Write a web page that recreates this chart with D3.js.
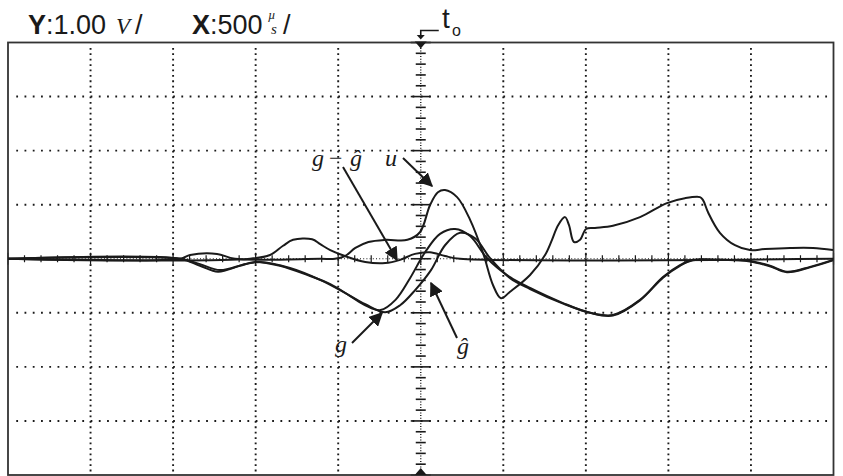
<!DOCTYPE html>
<html><head><meta charset="utf-8">
<script src="https://cdn.jsdelivr.net/npm/d3@7"></script>
<style>body{margin:0;background:#fff}svg{display:block}</style>
</head><body>
<svg id="c" width="843" height="476"></svg>
<script>
// ---- data (time in µs relative to t0, voltage in V) ----
const timeTicks = [-2500,-2000,-1500,-1000,-500,0,500,1000,1500,2000,2500];
const voltTicks = [-4,-3,-2,-1,0,1,2,3,4];

const uTime = [-2500,-1458,-1397,-1234,-1125,-608,-520,-459,-396,-317,-215,-81,-5,56,104,147,220,299,377,438,486,541,662,753,795,832,874,898,928,965,1001,1055,1164,1328,1491,1600,1691,1709,1740,1812,1903,1994,2085,2237,2376,2497];
const uVolt = [0,0,0.07,0.09,0,0,0,0.05,0.2,0.31,0.35,0.35,0.49,0.99,1.23,1.27,1.14,0.72,0.11,-0.49,-0.73,-0.61,-0.3,0.07,0.35,0.62,0.77,0.62,0.31,0.35,0.55,0.57,0.61,0.77,1.03,1.12,1.14,1.09,0.86,0.48,0.25,0.16,0.18,0.2,0.2,0.16];

const gTime = [-2500,-1458,-1337,-1228,-1095,-1004,-853,-670,-548,-427,-336,-244,-153,-65,26,117,208,299,402,541,662,862,1025,1164,1328,1467,1570,1649,1812,1994,2115,2218,2358,2497];
const gVolt = [0,0,-0.13,-0.24,-0.13,-0.06,-0.13,-0.32,-0.47,-0.69,-0.86,-0.95,-0.76,-0.36,0.12,0.46,0.55,0.42,0.01,-0.34,-0.54,-0.82,-1.0,-1.04,-0.76,-0.34,-0.12,-0.02,-0.02,-0.04,-0.13,-0.24,-0.15,-0.02];

const ghTime = [-2500,-1458,-1337,-1216,-1065,-974,-792,-609,-459,-336,-215,-125,-34,62,147,238,329,420,541,662,862,1025,1164,1328,1467,1570,1649,1812,1994,2115,2218,2358,2497];
const ghVolt = [0,0,-0.1,-0.21,-0.1,-0.06,-0.17,-0.39,-0.63,-0.84,-0.99,-0.86,-0.58,-0.21,0.25,0.48,0.38,0.01,-0.36,-0.56,-0.83,-1.0,-1.05,-0.77,-0.35,-0.13,-0.03,-0.02,-0.05,-0.14,-0.25,-0.16,-0.03];

const eTime = [-2500,-1034,-913,-834,-773,-658,-609,-548,-459,-336,-215,-125,-35,56,147,238,2500];
const eVolt = [0,0,0.07,0.24,0.35,0.36,0.27,0.16,0.05,-0.06,-0.08,-0.02,0.09,0.12,0.05,0,0];

// ---- drawing ----
const svg = d3.select("#c");
const L=8, R=833.5, T=42.5, B=475;
const x = d3.scaleLinear().domain([-2500,2500]).range([L,R]);
const y = d3.scaleLinear().domain([-4,4]).range([B,T]);
const ink = "#1a1a1a";

// dotted grid
const g = svg.append("g");
const divX = (x(500)-x(0)), divY = (y(0)-y(1));
timeTicks.filter(t=>t!==0 && t!==-2500 && t!==2500).forEach(t=>{
  g.append("line").attr("x1",x(t)).attr("x2",x(t)).attr("y1",T+divY/10).attr("y2",B)
   .attr("stroke",ink).attr("stroke-width",1.9)
   .attr("stroke-dasharray",`1.8,${divY/10-1.8}`);
});
voltTicks.filter(v=>v!==0 && Math.abs(v)!==4).forEach(v=>{
  g.append("line").attr("y1",y(v)).attr("y2",y(v)).attr("x1",L+divX/10).attr("x2",R)
   .attr("stroke",ink).attr("stroke-width",1.9)
   .attr("stroke-dasharray",`1.8,${divX/10-1.8}`);
});
// centre axes (dense dots + ticks)
g.append("line").attr("x1",x(0)).attr("x2",x(0)).attr("y1",T).attr("y2",B)
 .attr("stroke",ink).attr("stroke-width",1.4).attr("stroke-dasharray","1,1.7");
g.append("line").attr("y1",y(0)).attr("y2",y(0)).attr("x1",L).attr("x2",R)
 .attr("stroke",ink).attr("stroke-width",1.2).attr("stroke-dasharray","1,2.2");
d3.range(-4,4.001,0.2).forEach(v=>{
  const major = Math.abs(v-Math.round(v))<1e-6;
  const h = major?10:5;
  g.append("line").attr("x1",x(0)-h).attr("x2",x(0)+h).attr("y1",y(v)).attr("y2",y(v))
   .attr("stroke",ink).attr("stroke-width",1.6);
});
d3.range(-2500,2500.1,100).forEach(t=>{
  const major = t%500===0;
  const h = major?6:3.5;
  g.append("line").attr("y1",y(0)-h).attr("y2",y(0)+h).attr("x1",x(t)).attr("x2",x(t))
   .attr("stroke",ink).attr("stroke-width",1.2);
});

// frame
svg.append("rect").attr("x",L).attr("y",T).attr("width",R-L).attr("height",B-T)
  .attr("fill","none").attr("stroke","#333").attr("stroke-width",1.8);

// t0 markers
svg.append("path").attr("d",`M${x(0)-6},${T-1}L${x(0)+6},${T-1}L${x(0)},${T+6}Z`).attr("fill",ink);
svg.append("path").attr("d",`M${x(0)-6},${B}L${x(0)+6},${B}L${x(0)},${B-7}Z`).attr("fill",ink);
svg.append("path").attr("d",`M${x(0)+18},30.5H${x(0)}V37`).attr("fill","none").attr("stroke",ink).attr("stroke-width",1.6);
svg.append("path").attr("d",`M${x(0)-4},35L${x(0)+4},35L${x(0)},39.5Z`).attr("fill",ink);
svg.append("text").attr("x",442).attr("y",28).attr("font-family","Liberation Sans, Arial, sans-serif")
  .attr("font-size",28).attr("fill",ink).text("t");
svg.append("text").attr("x",452).attr("y",36).attr("font-family","Liberation Sans, Arial, sans-serif")
  .attr("font-size",16).attr("fill",ink).text("o");

// header
const hf = "Liberation Sans, Arial, sans-serif";
const h1 = svg.append("text").attr("x",28).attr("y",34).attr("font-family",hf).attr("font-size",27).attr("fill",ink);
h1.append("tspan").attr("font-weight","bold").text("Y");
h1.append("tspan").text(":1.00");
svg.append("text").attr("x",116).attr("y",34).attr("font-family","Liberation Serif, serif").attr("font-style","italic").attr("font-size",23).attr("fill",ink).text("V");
svg.append("text").attr("x",135).attr("y",34).attr("font-family",hf).attr("font-size",27).attr("fill",ink).text("/");
const h2 = svg.append("text").attr("x",192).attr("y",34).attr("font-family",hf).attr("font-size",27).attr("fill",ink);
h2.append("tspan").attr("font-weight","bold").text("X");
h2.append("tspan").text(":500");
svg.append("text").attr("x",268).attr("y",19).attr("font-family","Liberation Serif, serif").attr("font-style","italic").attr("font-size",13).attr("fill",ink).text("µ");
svg.append("text").attr("x",271).attr("y",34).attr("font-family","Liberation Serif, serif").attr("font-style","italic").attr("font-size",15).attr("fill",ink).text("s");
svg.append("text").attr("x",283).attr("y",34).attr("font-family",hf).attr("font-size",27).attr("fill",ink).text("/");

// traces
const line = d3.line().x(d=>x(d[0])).y(d=>y(d[1])).curve(d3.curveCatmullRom.alpha(0.5));
[[uTime,uVolt],[gTime,gVolt],[ghTime,ghVolt],[eTime,eVolt]].forEach(([ts,vs])=>{
  svg.append("path").datum(ts.map((t,i)=>[t,vs[i]])).attr("d",line)
    .attr("fill","none").attr("stroke",ink).attr("stroke-width",2);
});

// annotations
const mf = "Liberation Serif, serif";
function label(tx,ty,str,size){
  svg.append("text").attr("x",tx).attr("y",ty).attr("font-family",mf).attr("font-style","italic")
    .attr("font-size",size||24).attr("fill",ink).text(str);
}
label(312,166,"g");
svg.append("text").attr("x",329).attr("y",166).attr("font-family",mf).attr("font-size",24).attr("fill",ink).text("−");
label(350,166,"ĝ");
label(385,166,"u");
label(335,352,"g");
label(457,354,"ĝ");

const defs = svg.append("defs");
defs.append("marker").attr("id","ah").attr("viewBox","0 0 10 10").attr("refX",9).attr("refY",5)
  .attr("markerWidth",7).attr("markerHeight",7).attr("orient","auto")
  .append("path").attr("d","M0,0L10,5L0,10Z").attr("fill",ink);
function arrow(x1,y1,x2,y2){
  svg.append("line").attr("x1",x1).attr("y1",y1).attr("x2",x2).attr("y2",y2)
    .attr("stroke",ink).attr("stroke-width",2).attr("marker-end","url(#ah)");
}
arrow(343,167,397,260);
arrow(403,158,432,186);
arrow(352,343,382,313);
arrow(457,338,431,283);
</script>
</body></html>
